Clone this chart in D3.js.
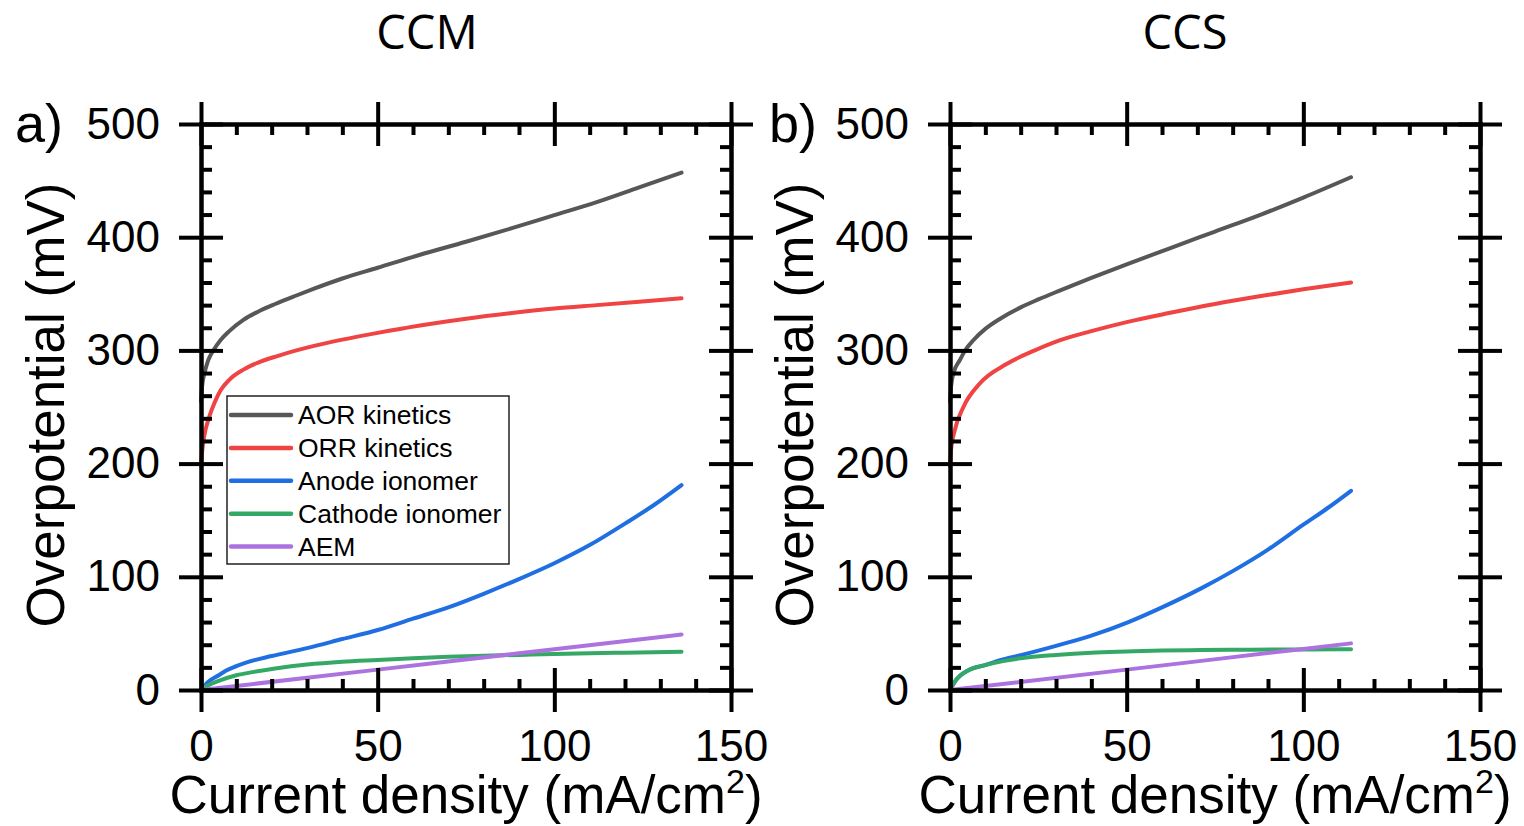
<!DOCTYPE html>
<html>
<head>
<meta charset="utf-8">
<script src="https://cdn.jsdelivr.net/npm/d3@7"></script>
<style>
    body { margin: 0; background: #fff; }
</style>
</head>
<body>
<div id="container"></div>
<script>
// series names + colours
var seriesNames = ['AOR kinetics', 'ORR kinetics', 'Anode ionomer', 'Cathode ionomer', 'AEM'];
var seriesColors = ['#575757', '#f04343', '#1f6fe3', '#35a865', '#ab72e0'];

// panel a) CCM (j in mA/cm2, overpotential in mV)
var ccmAorJ = [0, 0.3, 1, 2, 3.5, 5.5, 8, 12, 16, 21, 27, 32, 40, 50, 62, 75, 88, 100, 112, 124, 136];
var ccmAorV = [255, 268, 280, 291, 300, 309, 317, 327, 334, 341, 348.5, 354.5, 363.5, 373, 384.5, 396, 408, 419.5, 431, 444, 457];
var ccmOrrJ = [0, 0.3, 0.9, 2.3, 4, 5.6, 8, 12, 16, 21.6, 27, 32, 40, 50, 62, 75, 88, 100, 112, 124, 136];
var ccmOrrV = [198, 210, 224, 241, 255, 265, 274, 283, 289, 295, 300, 304, 309.5, 315.5, 322, 328, 333, 337, 340, 343, 346];
var ccmAnodeJ = [0, 2, 5, 7, 10, 13.6, 20, 30, 40, 50, 60, 70, 80, 90, 100, 110, 120, 128, 136];
var ccmAnodeV = [0, 7, 13, 17, 21, 25, 30, 37, 45, 53, 63, 73, 85, 98, 112, 128, 147, 163, 181];
var ccmCathodeJ = [0, 2, 5, 10, 15, 21, 30, 40, 50, 60, 70, 80, 90, 100, 110, 120, 136];
var ccmCathodeV = [0, 4, 8, 13, 16, 19, 22.5, 25, 26.5, 28, 29.3, 30.3, 31, 31.8, 32.4, 33, 33.8];
var ccmAemJ = [0, 50, 100, 136];
var ccmAemV = [0, 18, 36, 49];

// panel b) CCS
var ccsAorJ = [0, 0.3, 1, 2.8, 4.5, 6.6, 10, 14.2, 20, 25, 31.2, 40, 50, 62, 75, 88, 100, 113.5];
var ccsAorV = [255, 268, 280, 291.5, 301, 309, 319, 328, 338, 345, 353, 364, 376, 390, 405, 420, 435, 453];
var ccsOrrJ = [0, 0.3, 1.4, 3.8, 8.5, 16, 24, 31.2, 40, 50, 62, 75, 88, 100, 113.5];
var ccsOrrV = [198, 212, 230, 250, 271, 288, 300, 309, 317, 325, 333, 341, 348, 354, 360];
var ccsAnodeJ = [0, 2, 5.3, 9.9, 15, 20.3, 30, 40, 50.5, 60, 71.2, 80, 90, 100, 107, 113.5];
var ccsAnodeV = [0, 10, 17.7, 22, 27, 31, 39, 48, 60, 73, 90, 105, 124, 146, 161, 176];
var ccsCathodeJ = [0, 1, 3, 5.3, 10, 15, 20, 30, 40, 50, 60, 71, 85, 100, 113.5];
var ccsCathodeV = [0, 6, 13, 17.5, 22, 25.5, 28, 31, 33, 34, 34.8, 35.3, 35.6, 35.8, 36];
var ccsAemJ = [0, 50, 100, 113.5];
var ccsAemV = [0, 18, 36.3, 41.2];

// axis ticks
var xMajorTicks = [0, 50, 100, 150];
var xMinorTicks = [10, 20, 30, 40, 60, 70, 80, 90, 110, 120, 130, 140];
var yMajorTicks = [0, 100, 200, 300, 400, 500];
var yMinorTicks = [20, 40, 60, 80, 120, 140, 160, 180, 220, 240, 260, 280, 320, 340, 360, 380, 420, 440, 460, 480];

var panelTitles = ['CCM', 'CCS'];
var panelLetters = ['a)', 'b)'];

function zipSeries(js, vs) {
    return js.map(function (j, i) { return { j: j, v: vs[i] }; });
}

var ccmSeries = [
    zipSeries(ccmAorJ, ccmAorV),
    zipSeries(ccmOrrJ, ccmOrrV),
    zipSeries(ccmAnodeJ, ccmAnodeV),
    zipSeries(ccmCathodeJ, ccmCathodeV),
    zipSeries(ccmAemJ, ccmAemV)
];
var ccsSeries = [
    zipSeries(ccsAorJ, ccsAorV),
    zipSeries(ccsOrrJ, ccsOrrV),
    zipSeries(ccsAnodeJ, ccsAnodeV),
    zipSeries(ccsCathodeJ, ccsCathodeV),
    zipSeries(ccsAemJ, ccsAemV)
];

var svg = d3.select('#container')
    .append('svg')
    .attr('width', 1524)
    .attr('height', 826);

var tickFont = 'Liberation Sans, Arial, sans-serif';
var plotW = 530, plotH = 566;
var plotTop = 124;

function drawPanel(left, series, idx, opts) {
    var x = d3.scaleLinear().domain([0, 150]).range([0, plotW]);
    var y = d3.scaleLinear().domain([0, 500]).range([plotH, 0]);

    var g = svg.append('g')
        .attr('transform', 'translate(' + left + ',' + plotTop + ')');

    // curves first, axes drawn on top
    var line = d3.line()
        .x(function (d) { return x(d.j); })
        .y(function (d) { return y(d.v); })
        .curve(d3.curveMonotoneX);

    g.selectAll('.curve')
        .data(series)
        .enter()
        .append('path')
        .attr('class', 'curve')
        .attr('fill', 'none')
        .attr('stroke', function (d, i) { return seriesColors[i]; })
        .attr('stroke-width', 4)
        .attr('stroke-linecap', 'round')
        .attr('d', line);

    // helper: draw one axis layer
    function layer(axis, transform, keepDomain) {
        var a = g.append('g')
            .attr('transform', transform)
            .call(axis);
        a.selectAll('line').attr('stroke', '#000').attr('stroke-width', 4);
        if (keepDomain) {
            a.select('.domain').attr('stroke', '#000').attr('stroke-width', 4.5).attr('stroke-linecap', 'square');
        } else {
            a.select('.domain').remove();
        }
        return a;
    }

    // bottom
    var bLab = layer(d3.axisBottom(x).tickValues(xMajorTicks).tickSize(22).tickSizeOuter(0).tickPadding(18), 'translate(0,' + plotH + ')', true);
    bLab.selectAll('text').attr('font-family', tickFont).attr('font-size', 44).attr('fill', '#000');
    layer(d3.axisBottom(x).tickValues(xMajorTicks).tickSize(-22).tickFormat(''), 'translate(0,' + plotH + ')', false);
    layer(d3.axisBottom(x).tickValues(xMinorTicks).tickSize(-11).tickFormat(''), 'translate(0,' + plotH + ')', false);

    // top
    layer(d3.axisTop(x).tickValues(xMajorTicks).tickSize(22).tickSizeOuter(0).tickFormat(''), 'translate(0,0)', true);
    layer(d3.axisTop(x).tickValues(xMajorTicks).tickSize(-22).tickFormat(''), 'translate(0,0)', false);
    layer(d3.axisTop(x).tickValues(xMinorTicks).tickSize(-11).tickFormat(''), 'translate(0,0)', false);

    // left
    var lLab = layer(d3.axisLeft(y).tickValues(yMajorTicks).tickSize(22).tickSizeOuter(0).tickPadding(19), 'translate(0,0)', true);
    lLab.selectAll('text').attr('font-family', tickFont).attr('font-size', 44).attr('fill', '#000');
    layer(d3.axisLeft(y).tickValues(yMajorTicks).tickSize(-22).tickFormat(''), 'translate(0,0)', false);
    layer(d3.axisLeft(y).tickValues(yMinorTicks).tickSize(-11).tickFormat(''), 'translate(0,0)', false);

    // right
    layer(d3.axisRight(y).tickValues(yMajorTicks).tickSize(22).tickSizeOuter(0).tickFormat(''), 'translate(' + plotW + ',0)', true);
    layer(d3.axisRight(y).tickValues(yMajorTicks).tickSize(-22).tickFormat(''), 'translate(' + plotW + ',0)', false);
    layer(d3.axisRight(y).tickValues(yMinorTicks).tickSize(-11).tickFormat(''), 'translate(' + plotW + ',0)', false);

    // y axis title
    g.append('text')
        .attr('transform', 'translate(' + (-137) + ',' + (plotH / 2 - 2) + ') rotate(-90)')
        .attr('text-anchor', 'middle')
        .attr('font-family', tickFont)
        .attr('font-size', 53)
        .text('Overpotential (mV)');

    // x axis title with superscript
    var xt = g.append('text')
        .attr('x', plotW / 2)
        .attr('y', plotH + 123)
        .attr('text-anchor', 'middle')
        .attr('font-family', tickFont)
        .attr('font-size', 53);
    xt.append('tspan').text('Current density (mA/cm');
    xt.append('tspan').attr('font-size', 34).attr('dy', -20).text('2');
    xt.append('tspan').attr('dy', 20).text(')');

    // panel letter
    g.append('text')
        .attr('x', opts.letterX)
        .attr('y', 18)
        .attr('font-family', tickFont)
        .attr('font-size', 54)
        .text(panelLetters[idx]);

    // title above
    svg.append('text')
        .attr('x', opts.titleX)
        .attr('y', 49)
        .attr('text-anchor', 'middle')
        .attr('font-family', 'Open Sans, sans-serif')
        .attr('font-size', 47)
        .text(panelTitles[idx]);

    if (opts.legend) {
        var lg = g.append('g').attr('transform', 'translate(26,272)');
        lg.append('rect')
            .attr('width', 282)
            .attr('height', 168)
            .attr('fill', '#fff')
            .attr('stroke', '#222')
            .attr('stroke-width', 1.5);
        var rows = lg.selectAll('.row')
            .data(seriesNames)
            .enter()
            .append('g')
            .attr('transform', function (d, i) { return 'translate(0,' + (19 + i * 32.9) + ')'; });
        rows.append('line')
            .attr('x1', 4).attr('x2', 64)
            .attr('stroke', function (d, i) { return seriesColors[i]; })
            .attr('stroke-width', 4.5)
            .attr('stroke-linecap', 'round');
        rows.append('text')
            .attr('x', 71)
            .attr('y', 9)
            .attr('font-family', tickFont)
            .attr('font-size', 26.5)
            .text(function (d) { return d; });
    }
}

drawPanel(201, ccmSeries, 0, { legend: true, letterX: -186, titleX: 427 });
drawPanel(950, ccsSeries, 1, { legend: false, letterX: -181, titleX: 1185 });
</script>
</body>
</html>
